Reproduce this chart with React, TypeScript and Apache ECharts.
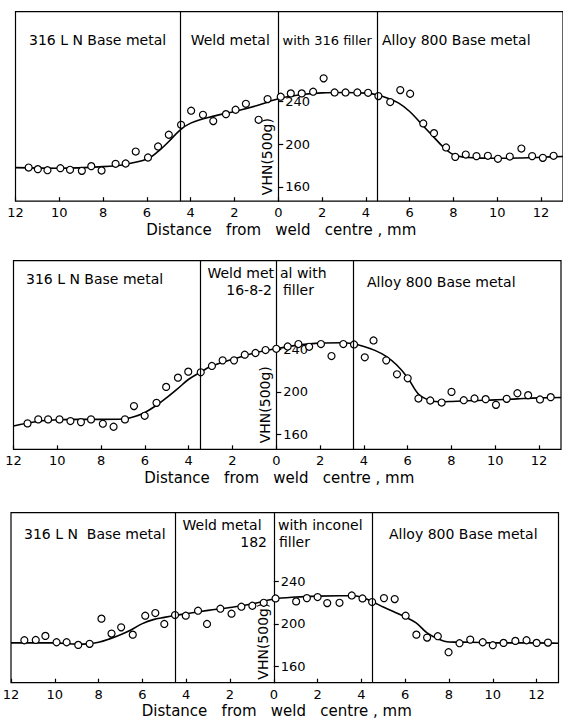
import React, { useEffect, useRef } from "react";
import * as echarts from "echarts";

// ---------- data ----------
const xTicks = [-12, -10, -8, -6, -4, -2, 0, 2, 4, 6, 8, 10, 12];
const yTicks = [160, 200, 240];

// Panel 1: 316 filler
const p1PointX = [-11.4, -10.98, -10.54, -9.95, -9.51, -8.97, -8.54, -8.07, -7.43, -6.97, -6.51, -5.95, -5.49, -5.0, -4.44, -3.98, -3.44, -2.97, -2.39, -1.95, -1.48, -0.9, -0.49, 0.11, 0.57, 1.07, 1.59, 2.07, 2.57, 3.07, 3.61, 4.1, 4.57, 5.11, 5.57, 6.02, 6.62, 7.11, 7.66, 8.08, 8.56, 9.05, 9.57, 10.03, 10.57, 11.1, 11.59, 12.08, 12.57];
const p1PointY = [178.1, 176.6, 175.6, 177.5, 176, 175, 179.4, 175.3, 181.6, 181.9, 193.1, 187.5, 197.8, 208.8, 218.1, 231.3, 227.5, 221.6, 228.1, 232.2, 237.8, 222.8, 242.2, 244.4, 247.5, 247.5, 249.1, 261.6, 248.4, 248.4, 248.4, 248.1, 245, 239.4, 250.6, 247.2, 219.4, 210.3, 196.9, 188.1, 190.3, 188.8, 189.1, 186.3, 188.4, 195.9, 188.8, 187.2, 189.1];
const p1CurveX = [-12, -10, -8, -7, -6, -5.5, -5, -4.5, -4, -3, -2, -1, 0, 1, 2, 3, 4, 4.5, 5, 5.5, 6, 6.5, 7, 7.5, 8, 8.5, 9, 10, 11, 12, 13];
const p1CurveY = [178, 177.5, 179, 181, 186, 193, 202.5, 213, 219.7, 226, 230.6, 236, 242.5, 246.2, 248, 248.4, 247.8, 246.2, 243, 238.4, 230.6, 219.7, 208.8, 198, 190, 187.8, 187.2, 186.8, 187, 187.8, 188.4];
const p1Bounds = [-4.5, 4.5];

// Panel 2: 16-8-2 filler
const p2PointX = [-11.36, -10.87, -10.42, -9.9, -9.4, -8.92, -8.46, -7.92, -7.43, -6.91, -6.5, -6.01, -5.47, -5.03, -4.49, -4.02, -3.45, -2.94, -2.45, -1.93, -1.44, -0.95, -0.49, 0, 0.52, 1.01, 1.5, 2.04, 2.52, 3.06, 3.55, 4.04, 4.44, 5.02, 5.51, 6.0, 6.49, 7.03, 7.55, 8.0, 8.56, 9.05, 9.56, 10.03, 10.52, 11.01, 11.5, 12.04, 12.53];
const p2PointY = [170.1, 173.9, 173.9, 173.9, 172.3, 171.3, 173.9, 169.8, 166.9, 173.9, 186.5, 177.3, 189.6, 204.7, 213.5, 219.2, 218.6, 224.6, 229.9, 229.9, 235.3, 236.9, 239.7, 240.9, 243.1, 245.4, 242.8, 245.4, 234, 245.4, 245, 232.8, 248.8, 229.9, 216.7, 212.9, 193.7, 191.8, 189.9, 200, 192.1, 193.7, 193.1, 187.7, 193.4, 198.7, 196.9, 192.8, 195];
const p2CurveX = [-12, -11, -10, -9, -8, -7, -6.5, -6, -5.5, -5, -4.5, -4, -3.45, -3, -2, -1, 0, 1, 2, 3, 3.5, 4, 4.5, 5, 5.5, 6, 6.5, 7, 7.5, 8, 9, 10, 11, 12, 13];
const p2CurveY = [167.6, 171.7, 173.5, 173.9, 173.9, 174.2, 176.4, 180.5, 186.8, 194.6, 203.1, 212, 218.9, 224, 230.9, 236.9, 241, 244.4, 246.3, 246.6, 245.7, 243.1, 239.4, 234, 225.5, 213.5, 197.8, 192.1, 190.6, 190.9, 191.8, 192.4, 193.4, 194.3, 194.6];
const p2Bounds = [-3.45, 3.5];

// Panel 3: inconel 182 filler
const p3PointX = [-11.39, -10.87, -10.43, -9.92, -9.46, -8.93, -8.41, -7.87, -7.41, -6.97, -6.44, -5.87, -5.41, -5.0, -4.51, -4.02, -3.46, -3.05, -2.44, -1.93, -1.48, -0.98, -0.46, 0.08, 1.02, 1.51, 2.0, 2.44, 3.0, 3.56, 4.05, 4.49, 5.03, 5.52, 6.02, 6.51, 7.0, 7.49, 7.98, 8.48, 8.97, 9.54, 10.0, 10.49, 11.03, 11.54, 12.0, 12.52];
const p3PointY = [184.5, 184.8, 188.6, 182.6, 182.6, 180.1, 181.1, 204.9, 190.8, 196.7, 189.8, 207.7, 210.2, 199.9, 208.3, 207.7, 212.4, 199.9, 214.3, 209.6, 216.2, 217.1, 219.9, 224, 221.2, 224.3, 225.3, 219.6, 219.9, 226.8, 224, 220.6, 224.3, 223.4, 207.7, 189.8, 187, 188.3, 173.2, 181.7, 185.1, 182.6, 179.8, 182, 183.9, 184.5, 182, 182.3];
const p3CurveX = [-12, -10, -9, -8.5, -8, -7.5, -7, -6.5, -6, -5.5, -5, -4.5, -4, -3, -2, -1, 0, 1, 2, 3, 3.5, 4, 4.5, 5, 5.5, 6, 6.5, 7, 7.5, 8, 9, 10, 12, 13];
const p3CurveY = [182, 182, 180.8, 181.1, 182.6, 185.8, 189.8, 194.5, 200.2, 204, 206.1, 208, 209.6, 212.7, 215.5, 218.7, 223.4, 225.3, 226.2, 226.5, 226.5, 225.3, 220.9, 215.9, 211.2, 206.6, 200.9, 191.4, 185.8, 182.9, 182.6, 182, 182, 181.7];
const p3Bounds = [-4.5, 4.5];

const xTitle = "Distance   from   weld   centre , mm";
const yTitle = "VHN(500g)";

// ---------- layout ----------
const FONT = "DejaVu Sans";
const X_MIN = -12;
const X_MAX = 13;
const GRID_W = 547.5;

const panels = [
  {
    left: 15.5, top: 11.7, height: 189.5, yMin: 146.6, yMax: 324,
    px: p1PointX, py: p1PointY, cx: p1CurveX, cy: p1CurveY, bounds: p1Bounds,
    vhnGap: 6,
    texts: [
      { t: "316 L N Base metal", x: 29, y: 40, a: "left" },
      { t: "Weld metal", x: 190.7, y: 40, a: "left" },
      { t: "with 316 filler", x: 282.5, y: 40, a: "left", fs: 13 },
      { t: "Alloy 800 Base metal", x: 382, y: 40, a: "left" },
    ],
  },
  {
    left: 13.5, top: 260.7, height: 188.6, yMin: 145.5, yMax: 324.5,
    px: p2PointX, py: p2PointY, cx: p2CurveX, cy: p2CurveY, bounds: p2Bounds,
    vhnGap: 6,
    texts: [
      { t: "316 L N Base metal", x: 26, y: 279, a: "left" },
      { t: "Weld met", x: 274, y: 273, a: "right" },
      { t: "al with", x: 280, y: 273, a: "left" },
      { t: "16-8-2", x: 272, y: 289.5, a: "right" },
      { t: "filler", x: 283, y: 289.5, a: "left" },
      { t: "Alloy 800 Base metal", x: 367, y: 282, a: "left" },
    ],
  },
  {
    left: 11, top: 512.7, height: 170, yMin: 144.4, yMax: 305,
    px: p3PointX, py: p3PointY, cx: p3CurveX, cy: p3CurveY, bounds: p3Bounds,
    vhnGap: 3,
    texts: [
      { t: "316 L N  Base metal", x: 24, y: 534, a: "left" },
      { t: "Weld metal", x: 182.5, y: 525, a: "left" },
      { t: "182", x: 267, y: 542, a: "right" },
      { t: "with inconel", x: 278, y: 525, a: "left" },
      { t: "filler", x: 279, y: 542, a: "left" },
      { t: "Alloy 800 Base metal", x: 389, y: 534, a: "left" },
    ],
  },
];

function buildOption() {
  const grid: any[] = [];
  const xAxis: any[] = [];
  const yAxis: any[] = [];
  const series: any[] = [];
  const graphic: any[] = [];
  const pxPerMm = GRID_W / (X_MAX - X_MIN);

  panels.forEach((p, i) => {
    const zeroOffset = (0 - X_MIN) * pxPerMm;
    const zeroX = p.left + zeroOffset;
    grid.push({
      left: p.left, top: p.top, width: GRID_W, height: p.height,
      show: true, borderColor: "#000", borderWidth: 1.2,
      backgroundColor: "transparent", containLabel: false,
      outerBoundsMode: "none",
    });
    xAxis.push({
      type: "value", gridIndex: i, min: X_MIN, max: X_MAX,
      splitLine: { show: false },
      axisLine: { show: false, onZero: false },
      axisTick: { show: true, inside: true, length: 4, customValues: xTicks, lineStyle: { color: "#000", width: 1.2 } },
      axisLabel: {
        show: true, customValues: xTicks, margin: 5,
        formatter: (v: number) => String(Math.abs(v)),
        color: "#000", fontSize: 13, fontFamily: FONT,
      },
      name: xTitle, nameLocation: "middle", nameGap: 21,
      nameTextStyle: { color: "#000", fontSize: 15, fontFamily: FONT, padding: [0, 16, 0, 0] },
    });
    yAxis.push({
      type: "value", gridIndex: i, min: p.yMin, max: p.yMax,
      position: "left", offset: -zeroOffset,
      splitLine: { show: false },
      axisLine: { show: true, onZero: false, lineStyle: { color: "#000", width: 1.2 } },
      axisTick: { show: true, inside: true, length: 5, customValues: yTicks, lineStyle: { color: "#000", width: 1.2 } },
      axisLabel: { show: true, inside: true, customValues: yTicks, margin: 7, color: "#000", fontSize: 13, fontFamily: FONT },
    });
    series.push({
      type: "line", xAxisIndex: i, yAxisIndex: i,
      data: p.cx.map((x, k) => [x, p.cy[k]]),
      smooth: 0.35, showSymbol: false, symbol: "none",
      lineStyle: { color: "#000", width: 1.6 },
      z: 2, silent: true,
      markLine: {
        silent: true, symbol: "none", animation: false,
        label: { show: false },
        lineStyle: { color: "#000", width: 1.2, type: "solid" },
        data: p.bounds.map((b) => ({ xAxis: b })),
      },
    });
    series.push({
      type: "scatter", xAxisIndex: i, yAxisIndex: i,
      data: p.px.map((x, k) => [x, p.py[k]]),
      symbol: "circle", symbolSize: 7,
      itemStyle: { color: "#fff", borderColor: "#000", borderWidth: 1.2, opacity: 1 },
      z: 3, silent: true,
    });

    p.texts.forEach((tx: any) => {
      graphic.push({
        type: "text", x: tx.x, y: tx.y, silent: true,
        style: {
          text: tx.t, fill: "#000", font: `${tx.fs || 14}px "${FONT}"`,
          align: tx.a, verticalAlign: "middle",
        },
      });
    });
    graphic.push({
      type: "text", x: zeroX - 11, y: p.top + p.height - p.vhnGap, rotation: Math.PI / 2, silent: true,
      style: { text: yTitle, fill: "#000", font: `14px "${FONT}"`, align: "left", verticalAlign: "middle" },
    });
  });

  return { animation: false, backgroundColor: "#fff", grid, xAxis, yAxis, series, graphic };
}

export default function App() {
  const ref = useRef<HTMLDivElement>(null);
  useEffect(() => {
    if (!ref.current) return;
    const chart = echarts.init(ref.current, undefined, { renderer: "svg" });
    chart.setOption(buildOption() as any);
    return () => chart.dispose();
  }, []);
  return (
    <div
      ref={ref}
      style={{ position: "absolute", left: 0, top: 0, width: 563, height: 719, background: "#fff" }}
    />
  );
}
